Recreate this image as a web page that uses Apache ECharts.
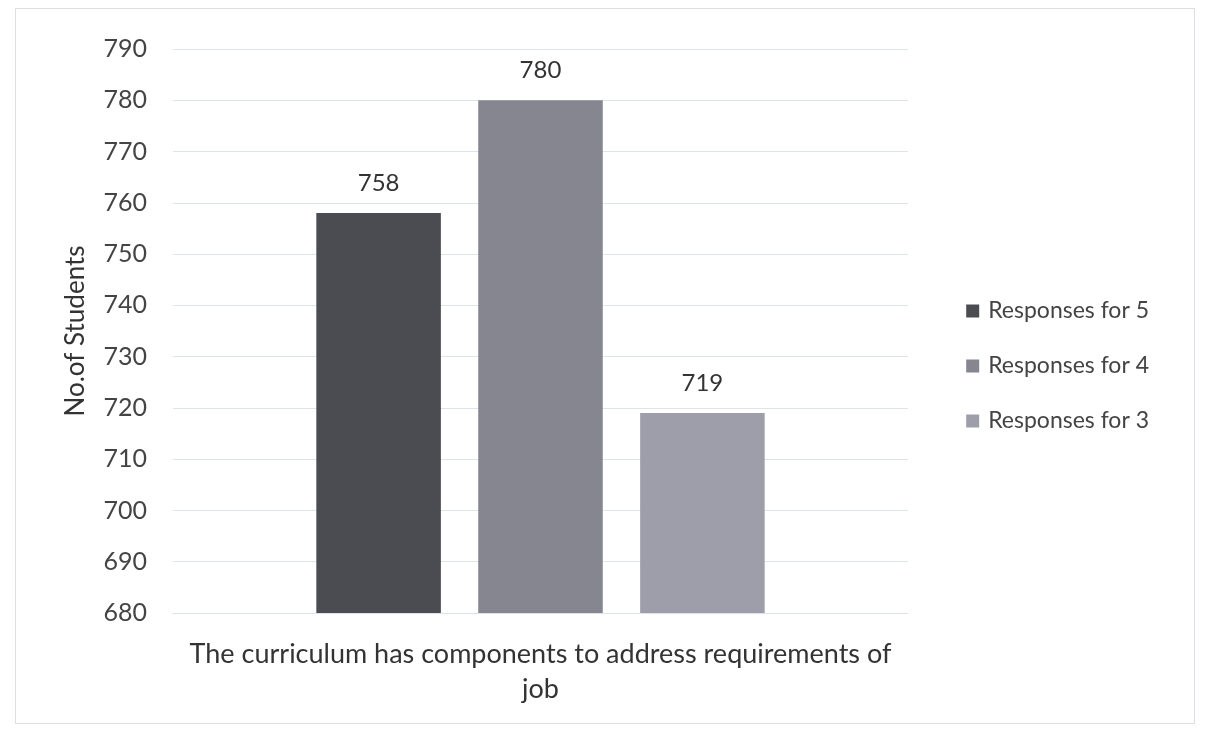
<!DOCTYPE html>
<html>
<head>
<meta charset="utf-8">
<script src="https://cdn.jsdelivr.net/npm/echarts@6/dist/echarts.min.js"></script>
<style>
  html, body { margin: 0; padding: 0; background: #fff; }
  #chart { position: absolute; left: 15px; top: 8px; width: 1180px; height: 716px; border: 1px solid #dcdfe4; box-sizing: border-box; }
</style>
</head>
<body>
<div id="chart"></div>
<script>
const categories = ['The curriculum has components to address requirements of\njob'];
const seriesNames = ['Responses for 5', 'Responses for 4', 'Responses for 3'];
const seriesValues = [[758], [780], [719]];
const seriesColors = ['#4b4c52', '#858690', '#9d9ea9'];

const chart = echarts.init(document.getElementById('chart'));
const font = 'Lato, "Open Sans", sans-serif';

chart.setOption({
  textStyle: { fontFamily: font },
  grid: { left: 157, right: 286, top: 40, bottom: 110 },
  legend: {
    orient: 'vertical',
    right: 40,
    top: 'middle',
    itemWidth: 13,
    itemHeight: 13,
    itemGap: 32,
    icon: 'rect',
    textStyle: { fontSize: 23, color: '#444', fontFamily: font, padding: [0, 0, 0, 4] },
    data: seriesNames
  },
  xAxis: {
    type: 'category',
    data: categories,
    axisLine: { lineStyle: { color: '#dde2ea' } },
    axisTick: { show: false },
    axisLabel: { fontSize: 27, color: '#333', lineHeight: 35, margin: 24, fontFamily: font }
  },
  yAxis: {
    type: 'value',
    min: 680,
    max: 790,
    interval: 10,
    name: 'No.of Students',
    nameLocation: 'middle',
    nameGap: 84,
    nameTextStyle: { fontSize: 26, color: '#333', fontFamily: font },
    axisLine: { show: false },
    axisTick: { show: false },
    axisLabel: { fontSize: 25, color: '#444', margin: 26, fontFamily: font },
    splitLine: { lineStyle: { color: '#dfe3ea' } }
  },
  series: seriesNames.map((name, i) => ({
    name: name,
    type: 'bar',
    data: seriesValues[i],
    barGap: '30%',
    barCategoryGap: '39%',
    itemStyle: { color: seriesColors[i] },
    label: { show: true, position: 'top', distance: 18, fontSize: 24, color: '#333', fontFamily: font }
  }))
});
</script>
</body>
</html>
